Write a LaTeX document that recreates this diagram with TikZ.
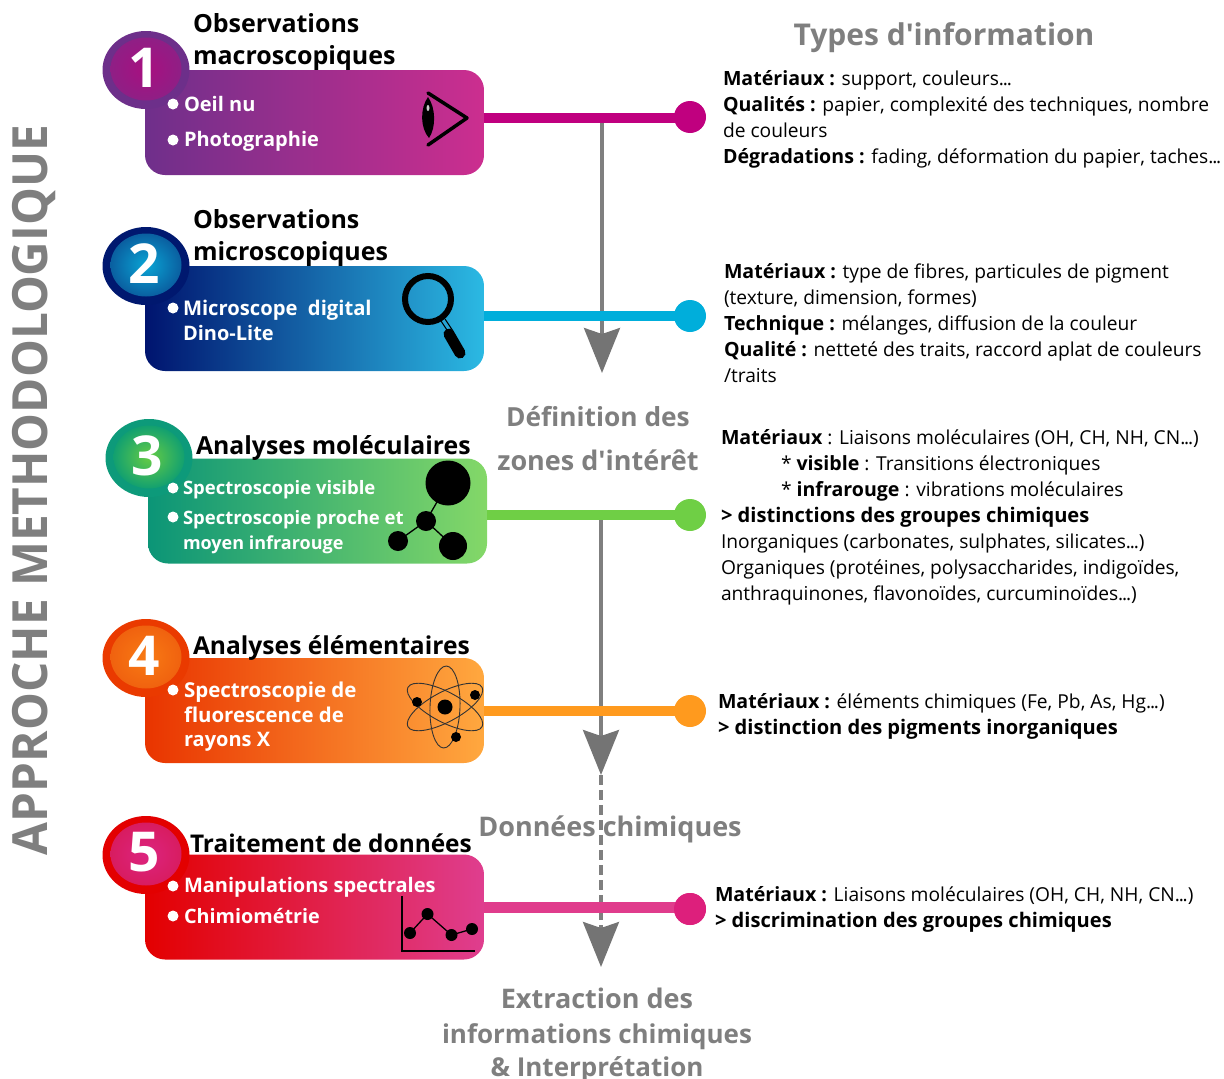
\documentclass[tikz,border=0pt]{standalone}
\usepackage{fontspec}
\setmainfont{Open Sans}
\newfontfamily\aposf{Open Sans}
\usetikzlibrary{shapes.geometric,arrows.meta}
\newcounter{tn}
\definecolor{gry}{HTML}{7F7F7F}
\definecolor{gryd}{HTML}{747474}
\definecolor{aL}{HTML}{6F2F8B}\definecolor{aR}{HTML}{CC2E8F}\definecolor{aO}{HTML}{6D2F8A}\definecolor{aI}{HTML}{A80F80}\definecolor{aJ}{HTML}{8F1F85}\definecolor{aK}{HTML}{C0007F}
\definecolor{bL}{HTML}{00146F}\definecolor{bR}{HTML}{2BB9E3}\definecolor{bO}{HTML}{00186F}\definecolor{bI}{HTML}{0AA5D5}\definecolor{bJ}{HTML}{0A5FA0}\definecolor{bK}{HTML}{00AEDB}
\definecolor{cL}{HTML}{0B9577}\definecolor{cR}{HTML}{84D868}\definecolor{cO}{HTML}{0D9A7A}\definecolor{cI}{HTML}{66CC44}\definecolor{cJ}{HTML}{12A070}\definecolor{cK}{HTML}{6FCF45}
\definecolor{dL}{HTML}{E93400}\definecolor{dR}{HTML}{FFA83F}\definecolor{dO}{HTML}{EA3A00}\definecolor{dI}{HTML}{F87A14}\definecolor{dJ}{HTML}{F0620F}\definecolor{dK}{HTML}{FF9A1E}
\definecolor{eL}{HTML}{E30000}\definecolor{eR}{HTML}{DF3E8F}\definecolor{eO}{HTML}{E30000}\definecolor{eI}{HTML}{DC2480}\definecolor{eJ}{HTML}{D81C60}\definecolor{eK}{HTML}{E03C8C}\definecolor{eD}{HTML}{DD1F7C}
\tikzset{
 lab/.style={anchor=base west,inner sep=0pt,outer sep=0pt,text=black},
 mid/.style={anchor=base,inner sep=0pt,outer sep=0pt},
 boxstyle/.style={rectangle,rounded corners=20pt,minimum width=339pt,minimum height=105pt,inner sep=0pt,shade,left color=#1L,right color=#1R},
 outerel/.style={ellipse,minimum width=87pt,minimum height=78pt,inner sep=0pt,fill=#1},
 innerel/.style={ellipse,minimum width=71pt,minimum height=63pt,inner sep=0pt,shade,inner color=#1I,outer color=#1J},
 numlab/.style={inner sep=0pt,outer sep=0pt,text=white,font=\fontsize{55}{55}\selectfont\bfseries},
 enddot/.style={circle,minimum size=32pt,inner sep=0pt,outer sep=0pt,fill=#1},
 link/.style={line width=10pt,draw=#1},
 flow/.style={draw=gry,line width=3.5pt,-{Stealth[length=45pt,width=36pt,inset=6pt,color=gryd]}},
 ink/.style={fill=black,draw=none},
}
\newcommand\lbl[4][]{\stepcounter{tn}\node[lab,#1] (t\arabic{tn}) at (#2,#3) {#4};}
\newcommand\bul[2]{\stepcounter{tn}\node[circle,fill=white,minimum size=11pt,inner sep=0pt] (t\arabic{tn}) at (#1,#2) {};}
\newcommand\head{\fontsize{25}{25}\selectfont\bfseries}
\newcommand\headb{\fontsize{24.8}{24.8}\selectfont\bfseries}
\newcommand\wht[1][20]{\color{white}\fontsize{#1}{#1}\selectfont\bfseries\ignorespaces}
\newcommand\bod{\fontsize{19.2}{19.2}\selectfont}
\newcommand\gryb[1][27]{\color{gry}\fontsize{#1}{#1}\selectfont\bfseries\ignorespaces}
\newcommand\B[1]{{\fontsize{19.6}{19.6}\selectfont\bfseries #1}}
\newcommand\BB[1]{{\fontsize{20.1}{20.1}\selectfont\bfseries #1}}
\newcommand\dd{.\kern-1.2pt.\kern-1.2pt.}
% #1 prefix, #2 number, #3 ellipse x, #4 ellipse y, #5 box centre x, #6 box centre y, #7 link y, #8 dot y, #9 link width
\newcommand\stepgroup[9]{%
 \node[boxstyle=#1] (box#2) at (#5,#6) {};
 \node[outerel=#1O] (oc#2) at (#3,#4) {};
 \node[innerel=#1] (ic#2) at (#3,#4-1) {};
 \node[numlab] (num#2) at (#3-2,#4-2.5) {#2};
 \node[enddot=#1K] (dot#2) at (690,#8) {};
 \coordinate (ls#2) at (box#2.east |- 690,#7);
 \coordinate (le#2) at (690,#7);
 \draw[link=#1K,line width=#9pt] (ls#2) -- (le#2);
}
\begin{document}
\begin{tikzpicture}[x=1pt,y=-1pt]
\useasboundingbox (0,0) rectangle (1224,1079);
% flow arrows
\coordinate (f1) at (602,122); \coordinate (f1e) at (602,373);
\coordinate (f2) at (601,520); \coordinate (f2e) at (601,775);
\coordinate (f3e) at (601,967);
\draw[flow] (f1) -- (f1e);
\draw[flow] (f2) -- (f2e);
\draw[flow,dash pattern=on 10pt off 5pt] (f2e) -- (f3e);
% groups
\stepgroup{a}{1}{146}{70}{314.5}{122.5}{117.5}{117}{10}
\stepgroup{b}{2}{146}{266}{314.5}{318.5}{315.5}{316}{10}
\stepgroup{c}{3}{149}{458}{317.5}{511}{515}{515}{10}
\stepgroup{d}{4}{146}{658}{314.5}{710.5}{711}{711}{10}
\stepgroup{e}{5}{146}{855}{314.5}{907}{907}{909}{11}
\node[enddot=eD] (dot5b) at (690,909) {};
% titles
\lbl{193}{32.5}{\head Observations}
\lbl{193}{64}{\head macroscopiques}
\lbl{193}{228.5}{\head Observations}
\lbl{193}{260.5}{\head microscopiques}
\lbl{196}{454}{\headb Analyses moléculaires}
\lbl{193}{654}{\fontsize{24.6}{24.6}\selectfont\bfseries Analyses élémentaires}
\lbl{190}{852}{\fontsize{24.4}{24.4}\selectfont\bfseries Traitement de données}
% white text
\bul{173}{104}\bul{173}{140}
\lbl{184}{111}{\wht Oeil nu}
\lbl{184}{146}{\wht Photographie}
\bul{173}{308}
\lbl{183}{315}{\wht[20.2] Microscope\ \ digital}
\lbl{183}{340}{\wht Dino-Lite}
\bul{173}{488}\bul{173}{517}
\lbl{183}{494}{\wht[18.5] Spectroscopie visible}
\lbl{183}{524}{\wht[18.5] Spectroscopie proche et}
\lbl{183}{549}{\wht[18] moyen infrarouge}
\bul{173}{690}
\lbl{184}{697}{\wht[20.5] Spectroscopie de}
\lbl{184}{722}{\wht[20.4] fluorescence de}
\lbl{184}{746}{\wht rayons X}
\bul{173}{886}\bul{173}{916}
\lbl{184}{892}{\wht Manipulations spectrales}
\lbl{184}{923}{\wht[19.8] Chimiométrie}
% right column
\lbl{723}{85}{\bod\B{Matériaux :} support, couleurs\dd}
\lbl{723}{111}{\bod\B{Qualités :} papier, complexité des techniques, nombre}
\lbl{723}{137}{\bod de couleurs}
\lbl{723}{163}{\bod\B{Dégradations :} fading, déformation du papier, taches\dd}
\lbl{724}{278}{\bod\B{Matériaux :} type de fibres, particules de pigment}
\lbl{724}{304}{\bod (texture, dimension, formes)}
\lbl{724}{330}{\bod\B{Technique :} mélanges, diffusion de la couleur}
\lbl{724}{356}{\bod\B{Qualité :} netteté des traits, raccord aplat de couleurs}
\lbl{724}{382}{\bod /traits}
\lbl{721}{444}{\bod\B{Matériaux} : Liaisons moléculaires (OH, CH, NH, CN\dd)}
\lbl{781}{470}{\bod * \B{visible} : Transitions électroniques}
\lbl{781}{496}{\bod * \B{infrarouge} : vibrations moléculaires}
\lbl{721}{522}{\bod\BB{> distinctions des groupes chimiques}}
\lbl{721}{548}{\bod Inorganiques (carbonates, sulphates, silicates\dd)}
\lbl{721}{574}{\bod Organiques (protéines, polysaccharides, indigoïdes,}
\lbl{721}{600}{\bod anthraquinones, flavonoïdes, curcuminoïdes\dd)}
\lbl{718}{708}{\bod\B{Matériaux :} éléments chimiques (Fe, Pb, As, Hg\dd)}
\lbl{718}{734}{\bod\BB{> distinction des pigments inorganiques}}
\lbl{715}{901}{\bod\B{Matériaux :} Liaisons moléculaires (OH, CH, NH, CN\dd)}
\lbl{715}{927}{\bod\BB{> discrimination des groupes chimiques}}
% grey labels
\lbl[mid]{944}{45}{\gryb[30] Types d{\aposf '}information}
\lbl[mid]{598}{426}{\gryb[26.3] Définition des}
\lbl[mid]{598}{470}{\gryb zones d{\aposf '}intérêt}
\lbl[mid]{610}{836}{\gryb Données chimiques}
\lbl[mid]{597}{1008}{\gryb Extraction des}
\lbl[mid]{597}{1043}{\gryb[26] informations chimiques}
\lbl[mid]{597}{1076}{\gryb[26] \& Interprétation}
\node[mid,rotate=90,text=gry,font=\fontsize{48.5}{48.5}\selectfont\bfseries] (sidetitle) at (47,490) {\resizebox{730pt}{\height}{APPROCHE METHODOLOGIQUE}};
% eye
\draw[line width=3.5pt,line cap=round,line join=round] (428,93) -- (467,118) -- (428,145);
\fill (428,97) .. controls (420,108) and (420,128) .. (429,138) .. controls (436,128) and (436,108) .. (428,97) -- cycle;
\fill[white!80!black] (428,108) ellipse [x radius=1.5,y radius=3];
% magnifier
\draw[line width=6pt] (428,299) circle (23);
\draw[line width=1pt] (441,321) -- (449,333) (445,319) -- (453,331);
\draw[line width=11pt,line cap=round] (449,334) -- (460,353);
% molecule
\draw[line width=1.3pt] (448,483) -- (426,521) -- (398,541) (426,521) -- (453,546);
\fill (448,483) circle (22.5) (426,521) circle (10) (398,541) circle (10) (453,546) circle (14);
% atom
\begin{scope}[line width=.9pt]
\draw[black!80,rotate around={-2:(445,707)}] (445,707) ellipse [x radius=15,y radius=41];
\draw[black!80,rotate around={62:(445,707)}] (445,707) ellipse [x radius=15,y radius=42];
\draw[black!80,rotate around={-62:(445,707)}] (445,707) ellipse [x radius=15,y radius=42];
\end{scope}
\fill (445,707) circle (7.5) (417,702) circle (5) (475,695) circle (5) (456,737) circle (5);
% chart
\draw[line width=1.5pt] (402,896) -- (402,951) -- (475,951);
\draw[line width=1.3pt] (410,933) -- (427.5,914) -- (451.5,935) -- (472,929);
\fill (410,933) circle (6) (427.5,914) circle (6) (451.5,935) circle (6) (472,929) circle (6);
\end{tikzpicture}
\end{document}
